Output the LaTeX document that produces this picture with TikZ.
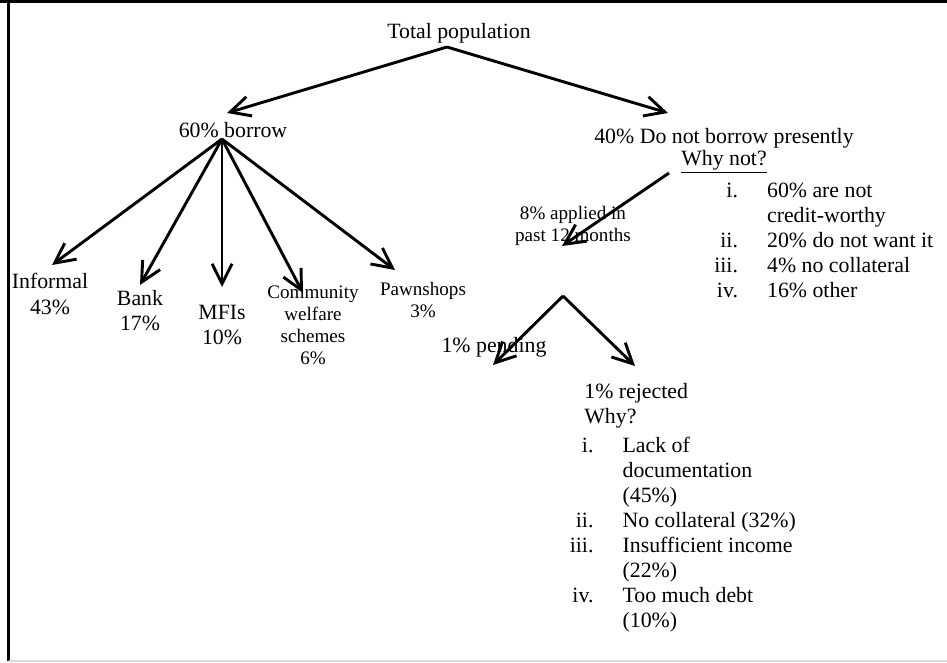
\documentclass[tikz,border=0pt]{standalone}
\usepackage{fontspec}
\setmainfont{Liberation Serif}
\usetikzlibrary{arrows.meta}
\tikzset{
  branch/.style={line width=1.6pt,-{Straight Barb[length=11pt,width=11pt]}},
  lbl/.style={inner sep=0pt,font=\fontsize{12}{13.8}\selectfont,align=center},
  smalllbl/.style={inner sep=0pt,font=\fontsize{10.5}{12}\selectfont,align=center}
}
\begin{document}
\begin{tikzpicture}[x=0.55pt,y=-0.55pt]
              \def\gap{16pt}
              \useasboundingbox (0,0) rectangle (947,663);
              \draw[line width=1.7pt] (0,1.5) -- (947,1.5);
              \draw[line width=1.7pt] (8.5,0) -- (8.5,661);
              \draw[black!15,line width=0.8pt] (8.5,661) -- (947,661);

              \node[lbl] (total) at (459,33) {Total population};
              \node[lbl] (borrow) at (233,130) {60\% borrow};
              \node[lbl] (notborrow) at (724,151) {40\% Do not borrow presently\\[-1.5pt]\underline{Why not?}};

              \node[lbl] (informal) at (50,294) {Informal\\43\%};
              \node[lbl] (bank) at (140,311) {Bank\\17\%};
              \node[lbl] (mfis) at (222,325) {MFIs\\10\%};
              \node[smalllbl] (community) at (313,325.5) {Community\\welfare\\schemes\\6\%};
              \node[smalllbl] (pawnshops) at (423,300) {Pawnshops\\3\%};

              \node[smalllbl] (applied) at (573,226) {8\% applied in\\past 12 months};
              \node[lbl,anchor=base west] (whynotlist) at (714,197)
              {\begin{tabular}[t]{@{}r@{\hspace{\gap}}l@{}}
              i. & 60\% are not\\
                 & credit-worthy\\
              ii. & 20\% do not want it\\
              iii. & 4\% no collateral\\
              iv. & 16\% other
              \end{tabular}};

              \node[lbl] (pending) at (494,347) {1\% pending};
              \node[lbl,anchor=west,align=left] (rejected) at (584,406) {1\% rejected\\Why?};
              \node[lbl,anchor=base west] (rejectedlist) at (569.5,452)
              {\begin{tabular}[t]{@{}r@{\hspace{\gap}}l@{}}
              i. & Lack of\\
                 & documentation\\
                 & (45\%)\\
              ii. & No collateral (32\%)\\
              iii. & Insufficient income\\
                   & (22\%)\\
              iv. & Too much debt\\
                  & (10\%)
              \end{tabular}};

              \coordinate (totalfork) at (447,47);
              \coordinate (borrowtip) at (227,113);
              \coordinate (notborrowtip) at (668,113);
              \draw[branch] (totalfork) -- (borrowtip);
              \draw[branch] (totalfork) -- (notborrowtip);

              \coordinate (borrowfork) at (222,139);
              \coordinate (informaltip) at (52,265);
              \coordinate (banktip) at (140,285);
              \coordinate (mfistip) at (222,287);
              \coordinate (communitytip) at (303,293);
              \coordinate (pawnshopstip) at (395,270);
              \draw[branch] (borrowfork) -- (informaltip);
              \draw[branch] (borrowfork) -- (banktip);
              \draw[branch] (borrowfork) -- (mfistip);
              \draw[branch] (borrowfork) -- (communitytip);
              \draw[branch] (borrowfork) -- (pawnshopstip);

              \coordinate (notborrowfork) at (669,173);
              \coordinate (appliedtip) at (562,246);
              \draw[branch] (notborrowfork) -- (appliedtip);

              \coordinate (appliedfork) at (563,296);
              \coordinate (pendingtip) at (493,365);
              \coordinate (rejectedtip) at (635,366);
              \draw[branch] (appliedfork) -- (pendingtip);
              \draw[branch] (appliedfork) -- (rejectedtip);
            \end{tikzpicture}
\end{document}
